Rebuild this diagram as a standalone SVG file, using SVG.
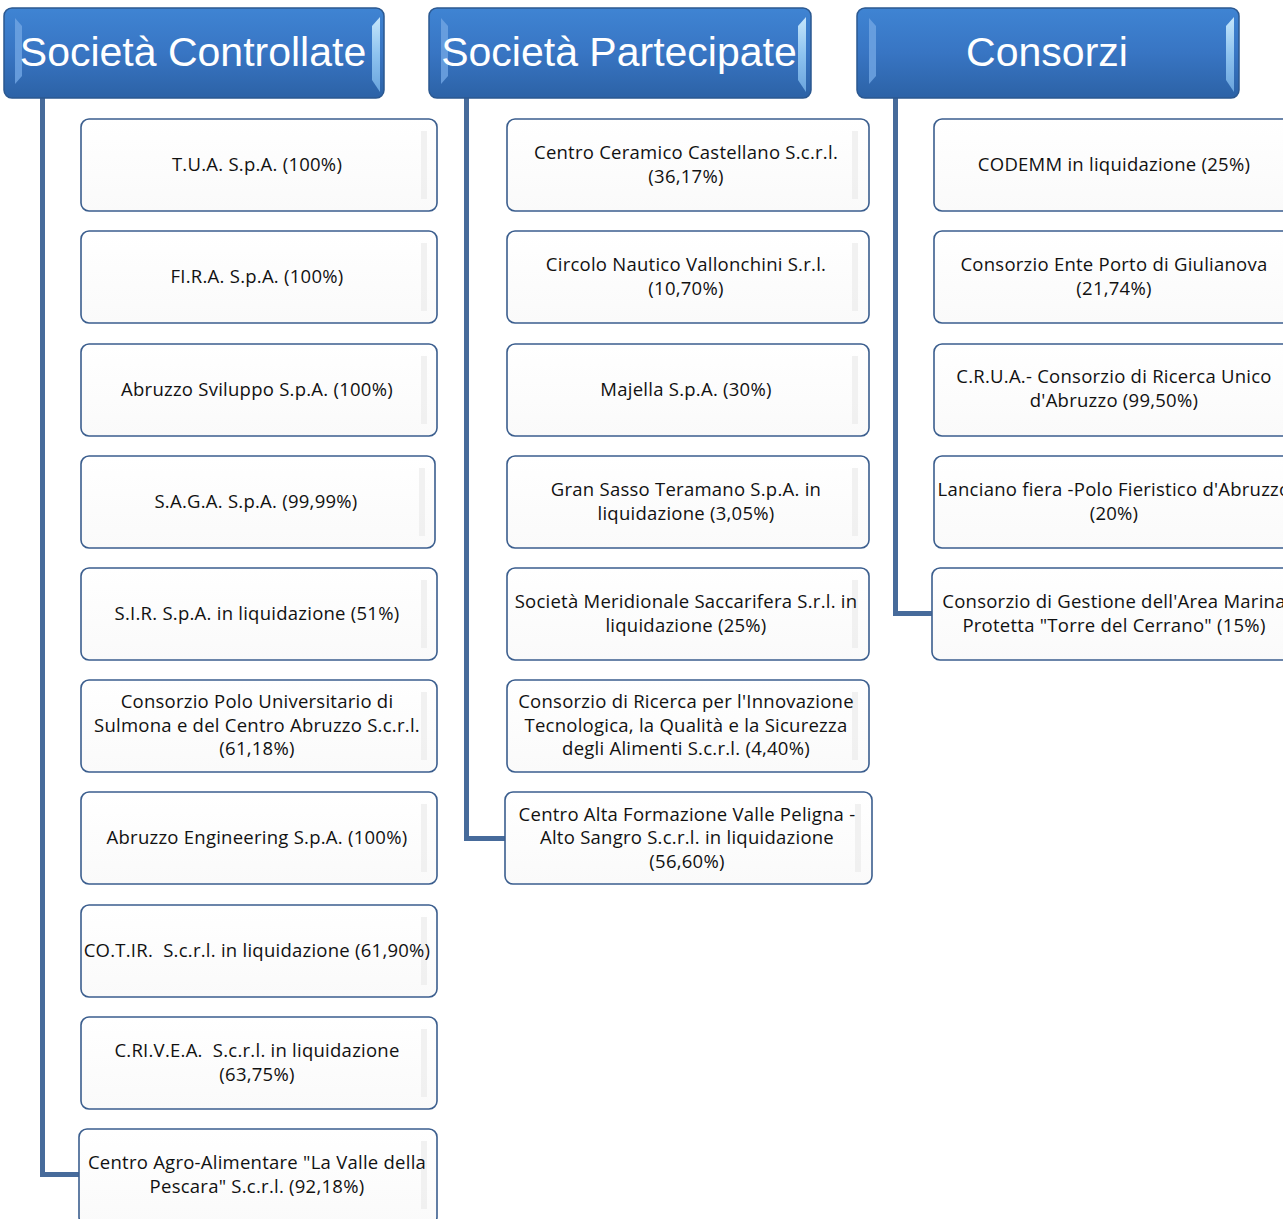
<svg xmlns="http://www.w3.org/2000/svg" width="1283" height="1219" viewBox="0 0 1283 1219">
<style>
.hdr-body{fill:url(#hg);stroke:#2b5890;stroke-width:1.5}
.bev-l{fill:#6ea3e2;opacity:.85}
.bev-r{fill:url(#br)}
.hdr-t{font-family:"Liberation Sans",Arial,sans-serif;font-size:41px;fill:#ffffff;text-anchor:middle}
.box{fill:url(#ng);stroke:#3b5e8e;stroke-width:1.6}
.inb{fill:#eeeeee;opacity:.8}
.nt{font-family:"Open Sans","Liberation Sans",Arial,sans-serif;font-size:18.5px;letter-spacing:0.25px;fill:#111111;text-anchor:middle}
.conn{fill:none;stroke:#476b9b;stroke-width:5}
</style>
<defs>
<linearGradient id="hg" x1="0" y1="0" x2="0" y2="1">
<stop offset="0" stop-color="#3f84d3"/>
<stop offset="0.5" stop-color="#3875c3"/>
<stop offset="1" stop-color="#2c62a6"/>
</linearGradient>
<linearGradient id="br" x1="0" y1="0" x2="0" y2="1">
<stop offset="0" stop-color="#c6e6fb"/>
<stop offset="0.5" stop-color="#8ec3ef"/>
<stop offset="1" stop-color="#6aa4dd"/>
</linearGradient>
<linearGradient id="ng" x1="0" y1="0" x2="0" y2="1">
<stop offset="0" stop-color="#ffffff"/>
<stop offset="1" stop-color="#fafafa"/>
</linearGradient>
</defs>
<rect width="1283" height="1219" fill="#ffffff"/>

<g id="connectors">
<rect x="37" y="95" width="44" height="4" fill="#ffffff"/>
<rect x="461" y="95" width="44" height="4" fill="#ffffff"/>
<rect x="890" y="95" width="44" height="4" fill="#ffffff"/>
<path class="conn" d="M42.5,97 V1174.5 H79"/>
<path class="conn" d="M466.5,97 V838.5 H505"/>
<path class="conn" d="M895.5,97 V613.5 H932"/>
</g>

<g id="hdr-controllate">
<rect class="hdr-body" x="4" y="8" width="380" height="90" rx="8"/>
<polygon class="bev-l" points="15,18 22,26 22,76 15,84"/>
<polygon class="bev-r" points="372,26 380,17 380,92 372,80"/>
<text class="hdr-t" x="193" y="66">Società Controllate</text>
</g>
<g id="hdr-partecipate">
<rect class="hdr-body" x="429" y="8" width="382" height="90" rx="8"/>
<polygon class="bev-l" points="441,18 448,26 448,76 441,84"/>
<polygon class="bev-r" points="798,26 806,17 806,92 798,80"/>
<text class="hdr-t" x="619" y="66">Società Partecipate</text>
</g>
<g id="hdr-consorzi">
<rect class="hdr-body" x="857" y="8" width="382" height="90" rx="8"/>
<polygon class="bev-l" points="869,18 876,26 876,76 869,84"/>
<polygon class="bev-r" points="1226,26 1234,17 1234,92 1226,80"/>
<text class="hdr-t" x="1047" y="66">Consorzi</text>
</g>

<!-- Column 1 -->
<g id="n-tua">
<rect class="box" x="81" y="119" width="356" height="92" rx="8"/>
<rect class="inb" x="421" y="131" width="6" height="68"/>
<text class="nt" x="257" y="171">T.U.A. S.p.A. (100%)</text>
</g>
<g id="n-fira">
<rect class="box" x="81" y="231" width="356" height="92" rx="8"/>
<rect class="inb" x="421" y="243" width="6" height="68"/>
<text class="nt" x="257" y="283">FI.R.A. S.p.A. (100%)</text>
</g>
<g id="n-abruzzo-sviluppo">
<rect class="box" x="81" y="344" width="356" height="92" rx="8"/>
<rect class="inb" x="421" y="356" width="6" height="68"/>
<text class="nt" x="257" y="396">Abruzzo Sviluppo S.p.A. (100%)</text>
</g>
<g id="n-saga">
<rect class="box" x="81" y="456" width="354" height="92" rx="8"/>
<rect class="inb" x="419" y="468" width="6" height="68"/>
<text class="nt" x="256" y="508">S.A.G.A. S.p.A. (99,99%)</text>
</g>
<g id="n-sir">
<rect class="box" x="81" y="568" width="356" height="92" rx="8"/>
<rect class="inb" x="421" y="580" width="6" height="68"/>
<text class="nt" x="257" y="620">S.I.R. S.p.A. in liquidazione (51%)</text>
</g>
<g id="n-polo-univ">
<rect class="box" x="81" y="680" width="356" height="92" rx="8"/>
<rect class="inb" x="421" y="692" width="6" height="68"/>
<text class="nt" x="257" y="708">Consorzio Polo Universitario di</text>
<text class="nt" x="257" y="732">Sulmona e del Centro Abruzzo S.c.r.l.</text>
<text class="nt" x="257" y="755">(61,18%)</text>
</g>
<g id="n-abruzzo-eng">
<rect class="box" x="81" y="792" width="356" height="92" rx="8"/>
<rect class="inb" x="421" y="804" width="6" height="68"/>
<text class="nt" x="257" y="844">Abruzzo Engineering S.p.A. (100%)</text>
</g>
<g id="n-cotir">
<rect class="box" x="81" y="905" width="356" height="92" rx="8"/>
<rect class="inb" x="421" y="917" width="6" height="68"/>
<text class="nt" x="257" y="957" xml:space="preserve">CO.T.IR.  S.c.r.l. in liquidazione (61,90%)</text>
</g>
<g id="n-crivea">
<rect class="box" x="81" y="1017" width="356" height="92" rx="8"/>
<rect class="inb" x="421" y="1029" width="6" height="68"/>
<text class="nt" x="257" y="1057" xml:space="preserve">C.RI.V.E.A.  S.c.r.l. in liquidazione</text>
<text class="nt" x="257" y="1081">(63,75%)</text>
</g>
<g id="n-agro">
<rect class="box" x="79" y="1129" width="358" height="96" rx="8"/>
<rect class="inb" x="421" y="1141" width="6" height="68"/>
<text class="nt" x="257" y="1169">Centro Agro-Alimentare "La Valle della</text>
<text class="nt" x="257" y="1193">Pescara" S.c.r.l. (92,18%)</text>
</g>

<!-- Column 2 -->
<g id="n-ceramico">
<rect class="box" x="507" y="119" width="362" height="92" rx="8"/>
<rect class="inb" x="852" y="131" width="6" height="68"/>
<text class="nt" x="686" y="159">Centro Ceramico Castellano S.c.r.l.</text>
<text class="nt" x="686" y="183">(36,17%)</text>
</g>
<g id="n-nautico">
<rect class="box" x="507" y="231" width="362" height="92" rx="8"/>
<rect class="inb" x="852" y="243" width="6" height="68"/>
<text class="nt" x="686" y="271">Circolo Nautico Vallonchini S.r.l.</text>
<text class="nt" x="686" y="295">(10,70%)</text>
</g>
<g id="n-majella">
<rect class="box" x="507" y="344" width="362" height="92" rx="8"/>
<rect class="inb" x="852" y="356" width="6" height="68"/>
<text class="nt" x="686" y="396">Majella S.p.A. (30%)</text>
</g>
<g id="n-gran-sasso">
<rect class="box" x="507" y="456" width="362" height="92" rx="8"/>
<rect class="inb" x="852" y="468" width="6" height="68"/>
<text class="nt" x="686" y="496">Gran Sasso Teramano S.p.A. in</text>
<text class="nt" x="686" y="520">liquidazione (3,05%)</text>
</g>
<g id="n-saccarifera">
<rect class="box" x="507" y="568" width="362" height="92" rx="8"/>
<rect class="inb" x="852" y="580" width="6" height="68"/>
<text class="nt" x="686" y="608">Società Meridionale Saccarifera S.r.l. in</text>
<text class="nt" x="686" y="632">liquidazione (25%)</text>
</g>
<g id="n-ricerca-alimenti">
<rect class="box" x="507" y="680" width="362" height="92" rx="8"/>
<rect class="inb" x="852" y="692" width="6" height="68"/>
<text class="nt" x="686" y="708">Consorzio di Ricerca per l'Innovazione</text>
<text class="nt" x="686" y="732">Tecnologica, la Qualità e la Sicurezza</text>
<text class="nt" x="686" y="755">degli Alimenti S.c.r.l. (4,40%)</text>
</g>
<g id="n-alta-formazione">
<rect class="box" x="505" y="792" width="367" height="92" rx="8"/>
<rect class="inb" x="855" y="804" width="6" height="68"/>
<text class="nt" x="687" y="821">Centro Alta Formazione Valle Peligna -</text>
<text class="nt" x="687" y="844">Alto Sangro S.c.r.l. in liquidazione</text>
<text class="nt" x="687" y="868">(56,60%)</text>
</g>

<!-- Column 3 -->
<g id="n-codemm">
<rect class="box" x="934" y="119" width="362" height="92" rx="8"/>
<text class="nt" x="1114" y="171">CODEMM in liquidazione (25%)</text>
</g>
<g id="n-giulianova">
<rect class="box" x="934" y="231" width="362" height="92" rx="8"/>
<text class="nt" x="1114" y="271">Consorzio Ente Porto di Giulianova</text>
<text class="nt" x="1114" y="295">(21,74%)</text>
</g>
<g id="n-crua">
<rect class="box" x="934" y="344" width="362" height="92" rx="8"/>
<text class="nt" x="1114" y="383">C.R.U.A.- Consorzio di Ricerca Unico</text>
<text class="nt" x="1114" y="407">d'Abruzzo (99,50%)</text>
</g>
<g id="n-lanciano">
<rect class="box" x="934" y="456" width="362" height="92" rx="8"/>
<text class="nt" x="1114" y="496">Lanciano fiera -Polo Fieristico d'Abruzzo</text>
<text class="nt" x="1114" y="520">(20%)</text>
</g>
<g id="n-cerrano">
<rect class="box" x="932" y="568" width="364" height="92" rx="8"/>
<text class="nt" x="1114" y="608">Consorzio di Gestione dell'Area Marina</text>
<text class="nt" x="1114" y="632">Protetta "Torre del Cerrano" (15%)</text>
</g>
</svg>
